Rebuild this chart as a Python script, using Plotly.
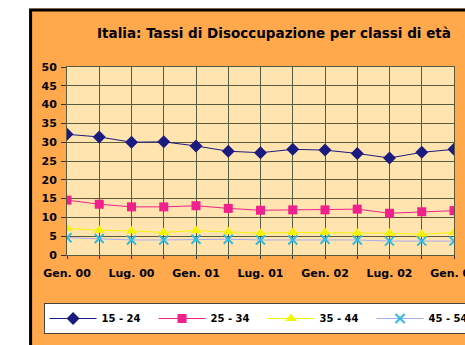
import plotly.graph_objects as go

categories = ["Gen. 00", "Apr. 00", "Lug. 00", "Ott. 00", "Gen. 01", "Apr. 01", "Lug. 01",
              "Ott. 01", "Gen. 02", "Apr. 02", "Lug. 02", "Ott. 02", "Gen. 03"]
tick_labels = ["Gen. 00", "", "Lug. 00", "", "Gen. 01", "", "Lug. 01", "", "Gen. 02", "",
               "Lug. 02", "", "Gen. 03"]
s_15_24 = [32.1, 31.4, 30.0, 30.1, 29.0, 27.6, 27.2, 28.1, 27.9, 27.0, 25.8, 27.3, 28.1]
s_25_34 = [14.6, 13.5, 12.8, 12.8, 13.1, 12.4, 11.9, 12.0, 12.0, 12.2, 11.1, 11.5, 11.8]
s_35_44 = [7.1, 6.6, 6.4, 6.0, 6.5, 6.2, 5.8, 6.0, 6.0, 5.8, 5.8, 5.5, 6.0]
s_45_54 = [4.6, 4.4, 4.0, 4.0, 4.2, 4.2, 4.0, 4.0, 4.2, 4.0, 3.7, 3.7, 3.7]
series_names = ["15 - 24", "25 - 34", "35 - 44", "45 - 54"]
y_ticks = [0, 5, 10, 15, 20, 25, 30, 35, 40, 45, 50]

x = list(range(len(categories)))
FONT = "DejaVu Sans, Liberation Sans, Arial, sans-serif"

fig = go.Figure()
styles = [
    dict(line=dict(color="#1a1a80", width=1), marker=dict(symbol="diamond", size=10, color="#1a1a80")),
    dict(line=dict(color="#f0208c", width=1), marker=dict(symbol="square", size=9, color="#f0208c")),
    dict(line=dict(color="#f4f400", width=1), marker=dict(symbol="triangle-up", size=10, color="#f4f400")),
    dict(line=dict(color="#a8acf0", width=1), marker=dict(symbol="x-thin", size=9,
                                                        line=dict(color="#30bce0", width=2), color="#30bce0")),
]
for name, vals, st in zip(series_names, [s_15_24, s_25_34, s_35_44, s_45_54], styles):
    fig.add_trace(go.Scatter(x=x, y=vals, name=name, mode="lines+markers",
                             line=st["line"], marker=st["marker"]))

L, R, T, B = 66.5, 465 - 454.5, 67, 345 - 255
W = 465 - L - R
H = 345 - T - B
def px(xp):
    return (xp - L) / W
def py(yp):
    return (345 - B - yp) / H

fig.update_layout(
    width=465, height=345,
    margin=dict(l=L, r=R, t=T, b=B, pad=0, autoexpand=False),
    paper_bgcolor="#ffa84c",
    plot_bgcolor="#ffe4b0",
    font=dict(family=FONT, size=10, color="black"),
    title=dict(text="<b>Italia: Tassi di Disoccupazione per classi di età</b>",
               x=274 / 465, xanchor="center", xref="container",
               y=1 - 33 / 345, yanchor="middle", yref="container",
               font=dict(family=FONT, size=13.5, color="black")),
    showlegend=True,
    legend=dict(orientation="h", x=px(43), xanchor="left", y=py(303), yanchor="top",
                bgcolor="white", bordercolor="#444444", borderwidth=1,
                font=dict(family=FONT, size=10, color="black", weight="bold"),
                itemwidth=47, entrywidth=47, traceorder="normal"),
    shapes=[
        dict(type="rect", xref="paper", yref="paper", x0=px(-20), x1=px(28.5), y0=py(-20), y1=py(400),
             fillcolor="white", line=dict(width=0), layer="above"),
        dict(type="rect", xref="paper", yref="paper", x0=px(-20), x1=px(500), y0=py(-20), y1=py(8.5),
             fillcolor="white", line=dict(width=0), layer="above"),
        dict(type="path", xref="paper", yref="paper",
             path=f"M {px(30)} {py(400)} L {px(30)} {py(10)} L {px(520)} {py(10)}",
             line=dict(color="black", width=3), layer="above"),
    ],
)
fig.update_xaxes(range=[0, 12], tickmode="array", tickvals=x, ticktext=tick_labels,
                 showgrid=True, gridcolor="#5a5a3c", gridwidth=1,
                 showline=True, linecolor="#5a5a3c", linewidth=1, mirror=True,
                 ticks="outside", ticklen=3, tickcolor="#333333",
                 ticklabelstandoff=5, ticklabeloverflow="allow", automargin=False,
                 tickfont=dict(family=FONT, size=11, color="black", weight="bold"),
                 zeroline=False, fixedrange=True)
fig.update_yaxes(range=[0, 50], tickmode="array", tickvals=y_ticks,
                 showgrid=True, gridcolor="#5a5a3c", gridwidth=1,
                 showline=True, linecolor="#5a5a3c", linewidth=1, mirror=True,
                 ticks="outside", ticklen=5, tickcolor="#333333",
                 ticklabelstandoff=2, automargin=False,
                 tickfont=dict(family=FONT, size=11, color="black", weight="bold"),
                 zeroline=False, fixedrange=True)

post = (
    "document.body.style.margin='0';"
    "document.body.style.overflow='hidden';"
    "document.documentElement.style.overflow='hidden';"
    "var st=document.createElement('style');"
    "st.textContent='::-webkit-scrollbar{display:none;width:0;height:0} html,body{scrollbar-width:none}';"
    "document.head.appendChild(st);"
)
fig.write_html("out.html", config={"displayModeBar": False, "staticPlot": True}, post_script=post)
